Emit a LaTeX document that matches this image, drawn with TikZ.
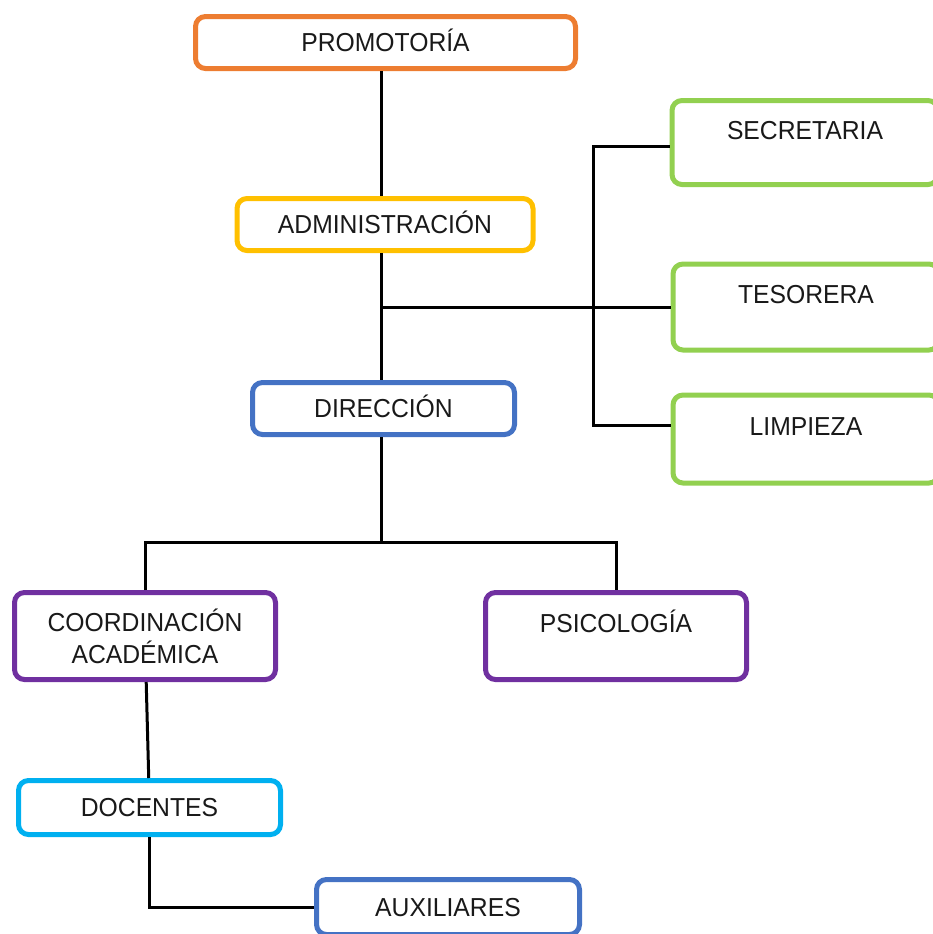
\documentclass[tikz,border=0pt]{standalone}
\usepackage{fontspec}
\setmainfont{Liberation Sans}[FakeStretch=0.95]
\usepackage{tikz}
\definecolor{naranja}{HTML}{ED7D31}
\definecolor{oro}{HTML}{FFC000}
\definecolor{verde}{HTML}{92D050}
\definecolor{azul}{HTML}{4472C4}
\definecolor{morado}{HTML}{7030A0}
\definecolor{celeste}{HTML}{00B0F0}
\tikzset{
  box/.style={
    rectangle,
    rounded corners=5pt,
    line width=2.5pt,
    fill=white,
    align=center,
    text=black!90,
    font=\fontsize{13}{16}\selectfont
    },
  single/.style={box, text height=9.5pt, text depth=0.5pt},
  topbox/.style={box, text height=9.5pt, text depth=13pt},
  link/.style={line width=1.5pt, black},
}

\begin{document}
\begin{tikzpicture}[x=0.5pt, y=-0.5pt]
\clip (0,0) rectangle (933,934);

\node (promo) [single, draw=naranja, minimum width=190pt, minimum height=26pt] at (385.5,42.5) {PROMOTORÍA};
\node (admin) [single, draw=oro, minimum width=148pt, minimum height=26pt] at (385,224.5) {ADMINISTRACIÓN};
\node (secr) [topbox, draw=verde, minimum width=133pt, minimum height=42pt] at (805,142.5) {SECRETARIA};
\node (teso) [topbox, draw=verde, minimum width=133pt, minimum height=43pt] at (806,307) {TESORERA};
\node (limp) [topbox, draw=verde, minimum width=133pt, minimum height=44pt] at (806,439) {LIMPIEZA};
\node (direc) [single, draw=azul, minimum width=131pt, minimum height=26pt] at (383.5,408.5) {DIRECCIÓN};
\node (coord) [box, draw=morado, minimum width=130.5pt, minimum height=43.5pt] at (145,636) {COORDINACIÓN\\ACADÉMICA};
\node (psico) [topbox, draw=morado, minimum width=130.5pt, minimum height=43.5pt] at (616,636) {PSICOLOGÍA};
\node (docen) [single, draw=celeste, minimum width=131pt, minimum height=27pt] at (149.5,807.5) {DOCENTES};
\node (aux) [single, draw=azul, minimum width=131.5pt, minimum height=27.5pt] at (448,907) {AUXILIARES};

% trunk runs a bit left of the box centres
\coordinate (top) at ([xshift=-2pt]promo.south);
\coordinate (hub) at (top |- teso.west);
\coordinate (rail) at (593,308);
\coordinate (fork) at ([xshift=-1pt]direc.south |- 0,542);

\draw [link] (top) -- (top |- admin.north);
\draw [link] (top |- admin.south) -- (top |- direc.north);
\draw [link] (hub) -- (teso.west);
\draw [link] ([yshift=-2pt]secr.west) -| (rail) |- ([yshift=7pt]limp.west);
\draw [link] ([xshift=-1pt]direc.south) -- (fork);
\draw [link] (coord.north) |- (fork) -| (psico.north);
\draw [link] (coord) -- (docen);
\draw [link] (docen.south) |- (aux.west);

\end{tikzpicture}
\end{document}
